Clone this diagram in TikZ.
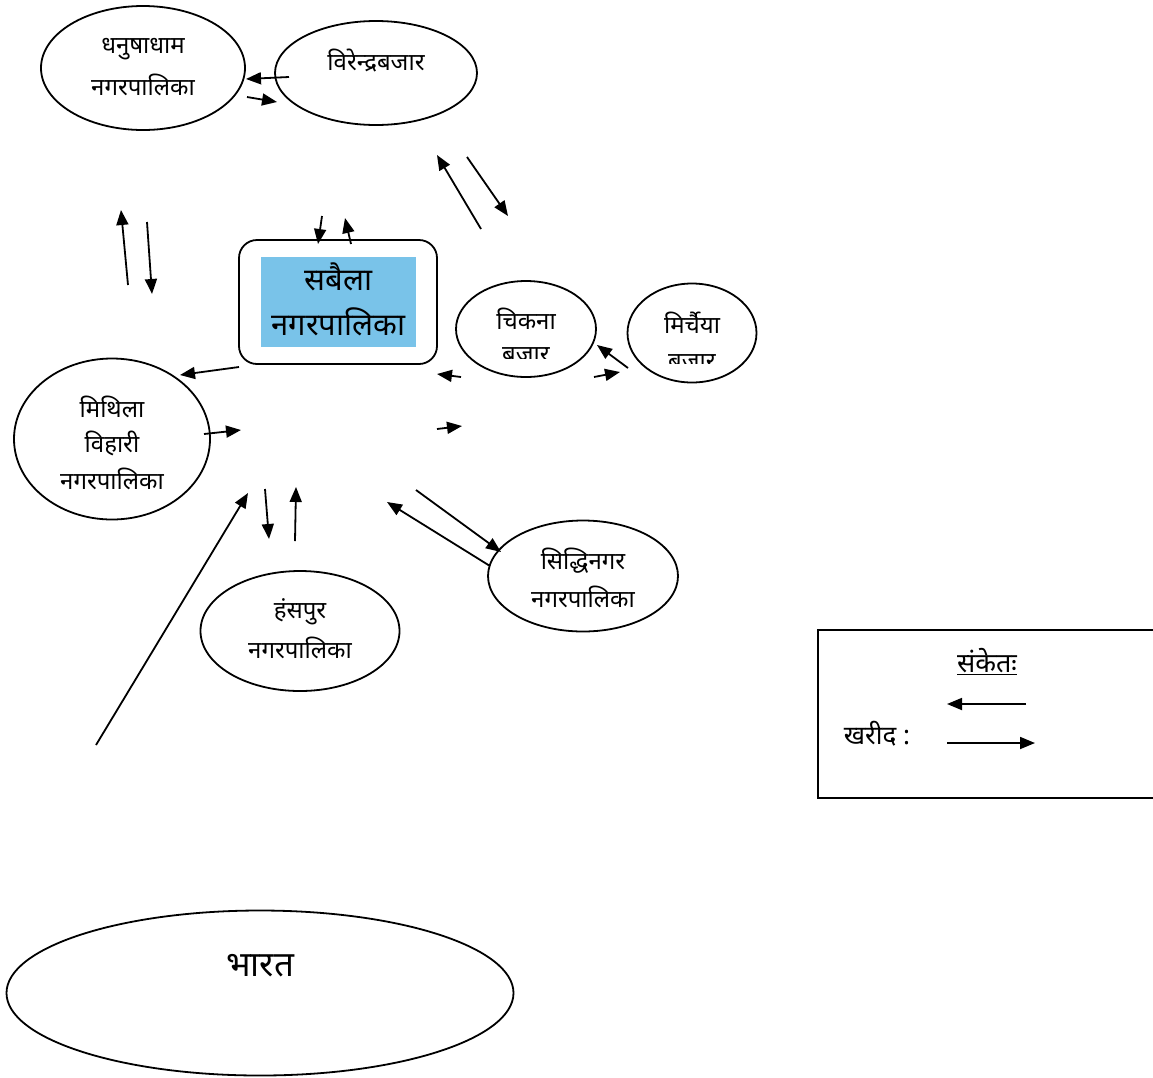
\documentclass[tikz,border=0pt]{standalone}
\usepackage{fontspec}
\newfontfamily\deva[Script=Devanagari]{Noto Sans}
\usetikzlibrary{arrows.meta,shapes.geometric}
\definecolor{skyb}{RGB}{121,195,233}
\begin{document}
\begin{tikzpicture}[x=1pt,y=-1pt,
  ell/.style={draw,ellipse,line width=1.8pt,inner sep=0pt},
  lbl/.style={font=\deva\fontsize{24}{28}\selectfont,inner sep=0pt},
  big/.style={font=\deva\fontsize{31}{34}\selectfont,inner sep=0pt},
  arr/.style={line width=1.8pt,-{Triangle[length=15pt,width=12pt]}}]
\useasboundingbox (0,0) rectangle (1153,1077);
% nodes
\node[ell,minimum width=204,minimum height=124] (dhanusha) at (143,68) {};
\node[lbl] (dhanushaA) at (143,49) {धनुषाधाम};
\node[lbl] (dhanushaB) at (143,85) {नगरपालिका};
\node[ell,minimum width=202,minimum height=104] (viren) at (376,73) {};
\node[lbl] (virenA) at (376,61) {विरेन्द्रबजार};
\node[draw,rounded corners=18pt,line width=1.8pt,minimum width=198,minimum height=124] (sabbox) at (338,302) {};
\node[fill=skyb,minimum width=155,minimum height=90] (sabaila) at (338.5,302) {};
\node[big] (sabA) at (338.5,277) {सबैला};
\node[big] (sabB) at (338.5,322) {नगरपालिका};
\node[ell,minimum width=140,minimum height=96] (chikna) at (526,329) {};
\begin{scope}
\clip (457,281) rectangle (596,358);
\node[lbl] (chiknaA) at (526,319) {चिकना};
\node[lbl] (chiknaB) at (526,355) {बजार};
\end{scope}
\node[ell,minimum width=129,minimum height=99] (mirch) at (692,333) {};
\begin{scope}
\clip (628,284) rectangle (757,363);
\node[lbl] (mirchA) at (692,323) {मिर्चैया};
\node[lbl] (mirchB) at (692,362) {बजार};
\end{scope}
\node[ell,minimum width=196,minimum height=161] (mithila) at (112,439) {};
\node[lbl] (mithA) at (112,407) {मिथिला};
\node[lbl] (mithB) at (112,443) {विहारी};
\node[lbl] (mithC) at (112,479) {नगरपालिका};
\node[ell,minimum width=199,minimum height=120] (hans) at (300,631) {};
\node[lbl] (hansA) at (300,612) {हंसपुर};
\node[lbl] (hansB) at (300,648) {नगरपालिका};
\node[ell,minimum width=190,minimum height=111] (siddhi) at (583,576) {};
\node[lbl] (siddhiA) at (583,561) {सिद्धिनगर};
\node[lbl] (siddhiB) at (583,597) {नगरपालिका};
\node[ell,minimum width=507,minimum height=165] (bharat) at (260,993) {};
\node[big,font=\deva\fontsize{35}{38}\selectfont] (bharatA) at (260,966) {भारत};
% legend
\draw[line width=1.6pt] (1160,630) -- (818,630) -- (818,798) -- (1160,798);
\node[big,font=\deva\fontsize{27}{30}\selectfont] (legT) at (987,662) {\underline{संकेतः}};
\node[big,font=\deva\fontsize{26}{30}\selectfont] (legK) at (877,734) {खरीद :};
\coordinate (l1a) at (1026,704); \coordinate (l1b) at (947,704);
\coordinate (l2a) at (947,743); \coordinate (l2b) at (1035,743);
\draw[arr] (l1a) -- (l1b);
\draw[arr] (l2a) -- (l2b);
% arrow end points
\coordinate (a1s) at (289,77); \coordinate (a1e) at (246,79);
\coordinate (a2s) at (247,97); \coordinate (a2e) at (277,102);
\coordinate (a3s) at (481,229); \coordinate (a3e) at (437,155);
\coordinate (a4s) at (467,157); \coordinate (a4e) at (508,216);
\coordinate (a5s) at (322,216); \coordinate (a5e) at (318,244);
\coordinate (a6s) at (351,244); \coordinate (a6e) at (345,218);
\coordinate (a7s) at (128,285); \coordinate (a7e) at (121,210);
\coordinate (a8s) at (147,222); \coordinate (a8e) at (152,294);
\coordinate (a9s) at (239,367); \coordinate (a9e) at (180,375);
\coordinate (a10s) at (204,434); \coordinate (a10e) at (241,430);
\coordinate (a11s) at (461,377); \coordinate (a11e) at (437,374);
\coordinate (a12s) at (437,429); \coordinate (a12e) at (462,426);
\coordinate (a13s) at (594,377); \coordinate (a13e) at (620,372);
\coordinate (a14s) at (628,368); \coordinate (a14e) at (597,345);
\coordinate (a15s) at (265,489); \coordinate (a15e) at (269,539);
\coordinate (a16s) at (295,541); \coordinate (a16e) at (296,487);
\coordinate (a17s) at (96,745); \coordinate (a17e) at (248,493);
\coordinate (a18s) at (416,490); \coordinate (a18e) at (501,552);
\coordinate (a19s) at (490,566); \coordinate (a19e) at (387,502);
\foreach \i in {1,...,19} \draw[arr] (a\i s) -- (a\i e);
\end{tikzpicture}
\end{document}
